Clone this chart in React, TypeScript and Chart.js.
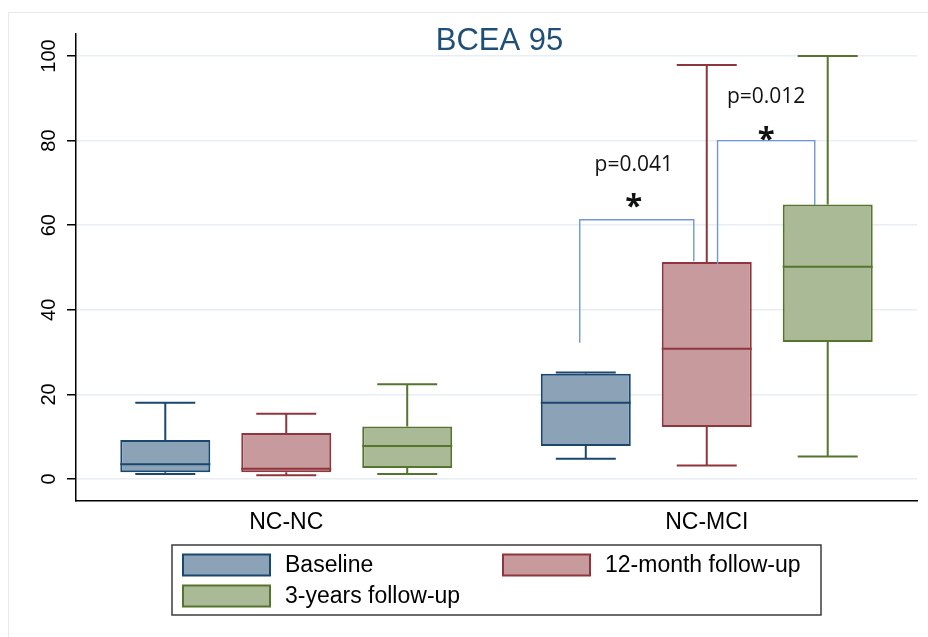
import React, { useEffect, useRef } from 'react';
import { Chart, registerables } from 'chart.js';

Chart.register(...registerables);

// ---------- data ----------
const categories = ['NC-NC', 'NC-MCI'];
const seriesNames = ['Baseline', '12-month follow-up', '3-years follow-up'];

const baselineMin = [1.2, 4.8];
const baselineQ1 = [1.6, 7.8];
const baselineMedian = [3.5, 18.0];
const baselineQ3 = [9.2, 24.9];
const baselineMax = [18.0, 25.2];

const month12Min = [0.9, 3.2];
const month12Q1 = [1.6, 12.3];
const month12Median = [2.4, 30.8];
const month12Q3 = [10.9, 51.3];
const month12Max = [15.4, 97.9];

const year3Min = [1.2, 5.3];
const year3Q1 = [2.6, 32.4];
const year3Median = [7.8, 50.2];
const year3Q3 = [12.4, 64.9];
const year3Max = [22.4, 100];

const yTickValues = [0, 20, 40, 60, 80, 100];
const yMin = -5.2;
const yMax = 105.2;

const titleText = 'BCEA 95';

// significance brackets (category index 1 = NC-MCI)
const bracketCategory = [1, 1];
const bracketFromSeries = [0, 1];
const bracketToSeries = [1, 2];
const bracketTop = [61.3, 80];
const bracketLeftEnd = [32.2, 50.8];
const bracketRightEnd = [51.5, 64.8];
const bracketLabels = ['p=0.041', 'p=0.012'];
const bracketLabelY = [74.3, 90.4];
const bracketStarY = [66.4, 82.3];

// ---------- styles ----------
const fills = ['#8ca3b7', '#c79a9d', '#aaba97'];
const lines = ['#1a476f', '#90353b', '#55752f'];
const FONT = '"Liberation Sans", Arial, sans-serif';

const boxes = [
  { min: baselineMin, q1: baselineQ1, med: baselineMedian, q3: baselineQ3, max: baselineMax },
  { min: month12Min, q1: month12Q1, med: month12Median, q3: month12Q3, max: month12Max },
  { min: year3Min, q1: year3Q1, med: year3Median, q3: year3Q3, max: year3Max },
];

const boxPlugin = {
  id: 'boxExtras',
  beforeDraw(chart: any) {
    const ctx = chart.ctx;
    ctx.save();
    ctx.strokeStyle = '#e3ebee';
    ctx.lineWidth = 1;
    ctx.strokeRect(8.5, 12.5, 1200, 1200);
    ctx.restore();
  },
  afterDatasetsDraw(chart: any) {
    const ctx = chart.ctx;
    const y = chart.scales.y;
    ctx.save();
    boxes.forEach((b, i) => {
      const meta = chart.getDatasetMeta(i);
      meta.data.forEach((el: any, j: number) => {
        const { x, width } = el.getProps(['x', 'width'], true);
        const cap = width * 2 / 3;
        ctx.strokeStyle = lines[i];
        ctx.lineWidth = 2;
        ctx.beginPath();
        // upper whisker
        ctx.moveTo(x, y.getPixelForValue(b.q3[j]));
        ctx.lineTo(x, y.getPixelForValue(b.max[j]));
        ctx.moveTo(x - cap / 2, y.getPixelForValue(b.max[j]));
        ctx.lineTo(x + cap / 2, y.getPixelForValue(b.max[j]));
        // lower whisker
        ctx.moveTo(x, y.getPixelForValue(b.q1[j]));
        ctx.lineTo(x, y.getPixelForValue(b.min[j]));
        ctx.moveTo(x - cap / 2, y.getPixelForValue(b.min[j]));
        ctx.lineTo(x + cap / 2, y.getPixelForValue(b.min[j]));
        // median
        ctx.moveTo(x - width / 2, y.getPixelForValue(b.med[j]));
        ctx.lineTo(x + width / 2, y.getPixelForValue(b.med[j]));
        ctx.stroke();
      });
    });
    ctx.restore();
  },
  afterDraw(chart: any) {
    const ctx = chart.ctx;
    const y = chart.scales.y;
    const area = chart.chartArea;
    ctx.save();

    // title
    ctx.fillStyle = '#1f4e79';
    ctx.font = `31px ${FONT}`;
    ctx.textAlign = 'center';
    ctx.textBaseline = 'alphabetic';
    ctx.fillText(titleText, (area.left + area.right) / 2 + 3, area.top + 16);

    // rotated y tick labels
    ctx.fillStyle = '#000';
    ctx.font = `20px ${FONT}`;
    y.ticks.forEach((t: any) => {
      const py = y.getPixelForValue(t.value);
      ctx.save();
      ctx.translate(area.left - 27, py);
      ctx.rotate(-Math.PI / 2);
      ctx.textAlign = 'center';
      ctx.textBaseline = 'middle';
      ctx.fillText(String(t.value), 0, 0);
      ctx.restore();
    });

    // brackets
    bracketLabels.forEach((lab, k) => {
      const c = bracketCategory[k];
      const a = chart.getDatasetMeta(bracketFromSeries[k]).data[c];
      const b = chart.getDatasetMeta(bracketToSeries[k]).data[c];
      const ax = a.x + (k === 0 ? -0.067 : 0.12) * a.width;
      const bx = b.x - 0.144 * b.width;
      const top = y.getPixelForValue(bracketTop[k]);
      ctx.strokeStyle = '#7297d6';
      ctx.lineWidth = 1.4;
      ctx.beginPath();
      ctx.moveTo(ax, y.getPixelForValue(bracketLeftEnd[k]));
      ctx.lineTo(ax, top);
      ctx.lineTo(bx, top);
      ctx.lineTo(bx, y.getPixelForValue(bracketRightEnd[k]));
      ctx.stroke();
      const mid = (ax + bx) / 2 - (k === 0 ? 3 : 0);
      ctx.fillStyle = '#111';
      ctx.font = `21px "Open Sans", sans-serif`;
      ctx.textAlign = 'center';
      ctx.textBaseline = 'middle';
      ctx.fillText(lab, mid, y.getPixelForValue(bracketLabelY[k]));
      ctx.font = `bold 31px "Open Sans", sans-serif`;
      ctx.textBaseline = 'alphabetic';
      ctx.fillText('*', mid, y.getPixelForValue(bracketStarY[k]) + 18);
    });

    // legend
    const lx = 172, ly = 545, lw = 649, lh = 70;
    ctx.strokeStyle = '#3c3c3c';
    ctx.lineWidth = 1.5;
    ctx.strokeRect(lx, ly, lw, lh);
    const cols = [183, 503];
    const rows = [565, 596];
    seriesNames.forEach((name, i) => {
      const cx = cols[i % 2];
      const cy = rows[Math.floor(i / 2)];
      ctx.fillStyle = fills[i];
      ctx.fillRect(cx, cy - 10.5, 87, 21);
      ctx.strokeStyle = lines[i];
      ctx.lineWidth = 2;
      ctx.strokeRect(cx, cy - 10.5, 87, 21);
      ctx.fillStyle = '#000';
      ctx.font = `23px ${FONT}`;
      ctx.textAlign = 'left';
      ctx.textBaseline = 'middle';
      ctx.fillText(name, cx + 102, cy + 1);
    });

    ctx.restore();
  },
};

export default function App() {
  const ref = useRef<HTMLCanvasElement | null>(null);

  useEffect(() => {
    if (!ref.current) return;
    const datasets = boxes.map((b, i) => ({
      label: seriesNames[i],
      data: categories.map((_, j) => [b.q1[j], b.q3[j]]),
      backgroundColor: fills[i],
      borderColor: lines[i],
      borderWidth: 2,
      borderSkipped: false,
      categoryPercentage: 0.863,
      barPercentage: 0.744,
    }));
    const chart = new Chart(ref.current, {
      type: 'bar',
      data: { labels: categories, datasets },
      options: {
        responsive: false,
        animation: false,
        layout: { padding: { left: 0, top: 34, right: 11, bottom: 0 } },
        plugins: {
          legend: { display: false },
          title: { display: false },
          tooltip: { enabled: false },
        },
        scales: {
          x: {
            grid: { display: false, drawTicks: false },
            border: { display: true, color: '#000', width: 1.5 },
            ticks: { color: '#000', font: { family: FONT, size: 23 }, padding: 8 },
            afterFit: (s: any) => { s.height = 136; },
          },
          y: {
            min: yMin,
            max: yMax,
            afterBuildTicks: (s: any) => { s.ticks = yTickValues.map((v) => ({ value: v })); },
            grid: { color: '#e8eef1', lineWidth: 1.5, tickLength: 9, tickColor: '#000', tickWidth: 1.5 },
            border: { display: true, color: '#000', width: 1.5 },
            ticks: { display: false },
            afterFit: (s: any) => { s.width = 76; },
          },
        },
      },
      plugins: [boxPlugin],
    } as any);
    return () => chart.destroy();
  }, []);

  return (
    <div style={{ position: 'fixed', left: 0, top: 0, width: 928, height: 637, background: '#fff' }}>
      <canvas ref={ref} width={928} height={637} style={{ display: 'block' }} />
    </div>
  );
}
